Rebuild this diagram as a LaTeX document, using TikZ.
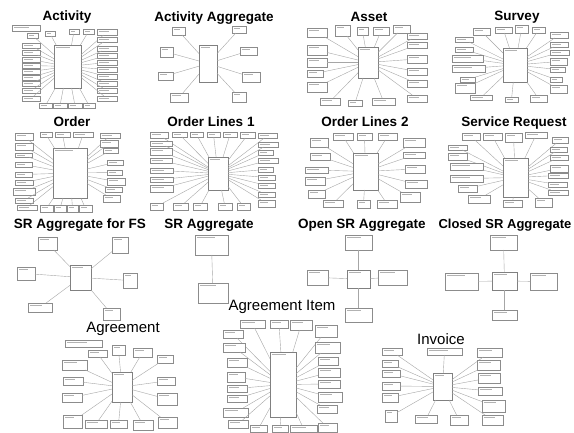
\documentclass[tikz,border=0pt]{standalone}
\usepackage{fontspec}
\newfontfamily\tfont{Liberation Sans}
\tikzset{
  sbox/.style={draw=black!45,line width=0.45pt,fill=white,inner sep=0pt,outer sep=0pt},
  cbox/.style={draw=black!50,line width=0.5pt,fill=white,inner sep=0pt,outer sep=0pt},
  conn/.style={draw=black!35,line width=0.4pt},
  txt/.style={draw=black!30,line width=0.7pt},
  ttl/.style={font=\tfont\bfseries\fontsize{13.5}{14}\selectfont,inner sep=0pt},
  ttlr/.style={font=\tfont\fontsize{15}{16}\selectfont,inner sep=0pt}
}
\newcommand\mkbox[6]{%
  \pgfmathsetmacro\mkW{#4-#2}\pgfmathsetmacro\mkH{#5-#3}%
  \pgfmathsetmacro\mkX{(#2+#4)/2}\pgfmathsetmacro\mkY{(#3+#5)/2}%
  \node[#6,minimum width=\mkW pt,minimum height=\mkH pt] (#1) at (\mkX,\mkY) {};%
  \pgfmathsetmacro\mkE{#2+0.6*(#4-#2)}%
  \draw[txt] ({#2+2},{#3+2.2}) -- (\mkE,{#3+2.2});}
\newcommand\sats[2]{%
  \foreach \xa/\ya/\xb/\yb [count=\i] in {#2} {%
    \mkbox{#1s\i}{\xa}{\ya}{\xb}{\yb}{sbox}
    \draw[conn] (#1s\i) -- (#1);
  }}
\begin{document}
\begin{tikzpicture}[x=1pt,y=-1pt]
\useasboundingbox[fill=white] (0,0) rectangle (574,433);
% titles
\node[ttl] (t1) at (67,17) {Activity};
\node[ttl] (t2) at (214,18) {Activity Aggregate};
\node[ttl] (t3) at (369,17) {Asset};
\node[ttl] (t4) at (517,17) {Survey};
\node[ttl] (t5) at (72,122) {Order};
\node[ttl] (t6) at (211,122) {Order Lines 1};
\node[ttl] (t7) at (365,122) {Order Lines 2};
\node[ttl] (t8) at (514,123) {Service Request};
\node[ttl] (t9) at (80,225) {SR Aggregate for FS};
\node[ttl] (t10) at (209,225) {SR Aggregate};
\node[ttl] (t11) at (362,225) {Open SR Aggregate};
\node[ttl,font=\tfont\bfseries\fontsize{13}{14}\selectfont] (t12) at (505,225) {Closed SR Aggregate};
\node[ttlr] (t13) at (123,329) {Agreement};
\node[ttlr] (t14) at (282,307) {Agreement Item};
\node[ttlr] (t15) at (441,339) {Invoice};
% Activity
\mkbox{ac}{54}{45}{81}{88}{cbox}
\mkbox{acl}{12}{25}{40}{31}{sbox}
\sats{ac}{27/33/38/38, 45/31/55/36, 69/29/79/34, 83/29/94/34, 97/29/117/35,
 22/43/40/48, 22/50/40/55, 22/57/40/62, 22/63/40/68, 22/69/40/74, 22/75/40/80, 22/81/40/86, 22/88/40/93, 22/96/40/101,
 97/37/117/42, 97/46/117/51, 97/53/117/58, 97/60/117/65, 97/67/117/72, 97/74/117/79, 97/81/117/86, 97/88/117/93, 97/96/117/101,
 39/103/52/108, 53/103/67/108, 68/103/82/108, 83/103/95/108}
% Activity Aggregate
\mkbox{aa}{199}{45}{217}{82}{cbox}
\sats{aa}{172/27/185/35, 232/26/246/33, 160/47/173/57, 240/47/257/55, 158/72/173/80, 242/72/260/82, 170/93/188/102, 232/92/246/102}
% Asset
\mkbox{as}{358}{47}{378}{78}{cbox}
\sats{as}{307/28/327/37, 335/25/350/36, 357/27/368/35, 373/27/389/35, 393/25/410/33, 407/33/427/39, 407/42/427/48, 407/55/427/63, 407/68/427/75, 407/80/427/87, 407/95/427/102, 307/45/327/55, 307/58/327/67, 307/70/323/77, 307/82/327/92, 320/98/340/105, 348/100/362/106, 372/98/395/105}
% Survey
\mkbox{su}{503}{48}{527}{82}{cbox}
\sats{su}{473/28/490/35, 495/27/512/33, 515/25/528/33, 532/27/545/33, 550/32/568/38, 550/42/568/47, 550/50/569/55, 550/58/567/65, 550/67/565/72, 550/77/562/82, 550/85/567/93, 455/37/473/42, 455/47/473/52, 452/55/483/62, 452/65/485/72, 460/77/475/82, 455/83/475/93, 470/95/492/100, 505/97/518/102, 530/95/547/102}
% Order
\mkbox{or}{53}{148}{87}{198}{cbox}
\sats{or}{40/132/52/137, 55/132/70/137, 73/132/93/137, 100/133/120/138, 15/133/33/140, 15/143/33/150, 15/153/32/157, 15/162/32/167, 15/172/32/177, 15/180/33/185, 13/188/35/195, 15/198/33/203, 17/205/37/210, 100/140/118/147, 103/148/118/153, 107/160/123/165, 107/170/122/175, 107/178/125/185, 105/187/122/192, 103/195/120/202, 40/205/53/212, 54/205/66/212, 67/205/78/212, 79/205/92/212}
% Order Lines 1
\mkbox{oa}{208}{157}{228}{190}{cbox}
\sats{oa}{150/132/168/138, 172/132/187/137, 190/132/203/137, 207/132/220/137, 223/132/237/137, 240/132/255/138, 258/133/277/138, 150/141/172/146, 150/148/172/155, 150/158/172/163, 150/168/173/173, 150/177/173/182, 150/185/173/192, 258/142/278/147, 258/150/273/155, 258/158/278/163, 258/167/273/172, 258/175/275/180, 258/183/275/188, 258/192/275/197, 258/200/275/207, 150/203/163/210, 173/203/188/210, 193/203/207/210, 218/203/232/210, 237/203/250/210}
% Order Lines 2
\mkbox{ob}{353}{153}{378}{190}{cbox}
\sats{ob}{333/133/353/140, 357/133/372/140, 378/133/397/140, 310/138/328/147, 310/153/330/160, 305/167/328/173, 305/177/325/185, 308/190/325/198, 403/138/425/147, 403/152/425/158, 405/165/425/173, 405/180/427/188, 400/192/420/202, 323/200/343/207, 357/200/370/208, 377/200/397/208}
% Service Request
\mkbox{sr}{503}{158}{528}{197}{cbox}
\sats{sr}{462/133/480/140, 483/133/502/140, 505/133/522/142, 525/132/547/138, 552/137/568/143, 448/145/467/150, 448/153/467/160, 450/163/483/170, 450/175/483/182, 458/185/477/192, 468/195/490/203, 550/147/567/152, 550/155/568/160, 550/165/568/172, 548/173/568/178, 548/182/567/187, 548/190/568/195, 503/200/522/207, 535/198/552/207}
% SR Aggregate for FS
\mkbox{fs}{70}{265}{91}{290}{cbox}
\sats{fs}{38/237/57/250, 112/237/128/253, 17/267/35/280, 123/273/137/288, 28/303/52/312, 103/308/120/320}
% SR Aggregate
\mkbox{ra}{195}{235}{228}{255}{sbox}
\mkbox{rb}{198}{283}{228}{303}{sbox}
\draw[conn] (ra) -- (rb);
% Open SR Aggregate
\mkbox{op}{347}{270}{370}{288}{cbox}
\sats{op}{345/235/372/250, 307/270/328/285, 378/270/407/285, 345/308/372/322}
% Closed SR Aggregate
\mkbox{cl}{492}{272}{517}{290}{cbox}
\sats{cl}{490/235/517/250, 445/273/478/290, 530/273/557/290, 492/310/517/320}
% Agreement
\mkbox{ag}{112}{372}{132}{402}{cbox}
\mkbox{agl}{65}{340}{102}{347}{sbox}
\sats{ag}{88/350/107/357, 112/345/125/355, 133/348/152/357, 157/355/173/363, 62/360/87/370, 63/377/83/385, 62/393/82/402, 63/415/82/428, 85/420/107/428, 157/377/175/385, 157/393/177/405, 158/417/177/428, 110/420/127/428, 133/420/153/430}
% Agreement Item
\mkbox{ai}{270}{352}{296}{417}{cbox}
\sats{ai}{240/320/265/328, 270/320/288/328, 290/320/312/330, 315/325/337/337, 223/330/243/338, 223/343/245/352, 227/358/247/367, 227/372/245/382, 227/385/247/392, 227/395/247/402, 223/408/248/417, 228/420/248/428, 315/342/340/353, 318/357/338/365, 318/368/340/377, 318/380/340/388, 318/392/342/402, 317/405/337/413, 318/423/337/432, 250/425/267/432, 272/425/288/432, 290/425/317/432}
% Invoice
\mkbox{iv}{433}{373}{452}{400}{cbox}
\sats{iv}{427/348/462/355, 382/348/402/355, 477/348/502/357, 382/360/398/367, 382/370/400/377, 382/382/400/390, 382/393/398/402, 477/360/500/370, 478/373/500/383, 478/387/502/395, 482/400/505/412, 385/410/397/422, 415/415/437/423, 450/415/468/425, 482/415/503/425}
\end{tikzpicture}
\end{document}
